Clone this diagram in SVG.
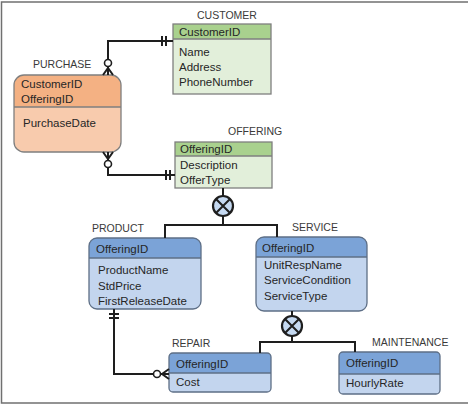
<svg xmlns="http://www.w3.org/2000/svg" width="468" height="408" viewBox="0 0 468 408">
<style>
text{font-family:"Liberation Sans",Arial,sans-serif}
.lbl{font-size:10.5px;fill:#3a3a3a}
.fld{font-size:11.5px;fill:#262626}
.gb{fill:#e2efda}.gh{fill:#a9d18e}
.ob{fill:#f8cbad}.oh{fill:#f4b183}
.bb{fill:#c3d5ee}.bh{fill:#7ba3d7}
.out{fill:none;stroke:#7f7f7f;stroke-width:1.3}
.bout{fill:none;stroke:#5e6f86;stroke-width:1.3}
.div{stroke:#7f7f7f;stroke-width:1.3}
.bdiv{stroke:#5e6f86;stroke-width:1.3}
.cn{fill:none;stroke:#1e1e1e;stroke-width:2}
.ring{fill:#fff;stroke:#1e1e1e;stroke-width:1.6}
.dj{fill:#c5d9f1;stroke:#1e1e1e;stroke-width:2.2}
</style>
<path d="M468,2 H1.5 V403 H468" fill="none" stroke="#707070" stroke-width="1.5"/>

<g id="customer">
<rect class="gb" x="173" y="24" width="98" height="70"/>
<rect class="gh" x="173" y="24" width="98" height="15"/>
<line class="div" x1="173" y1="39" x2="271" y2="39"/>
<rect class="out" x="173" y="24" width="98" height="70"/>
<text class="lbl" x="197" y="19">CUSTOMER</text>
<text class="fld" x="179" y="36">CustomerID</text>
<text class="fld" x="179" y="56">Name</text>
<text class="fld" x="179" y="71">Address</text>
<text class="fld" x="179" y="86">PhoneNumber</text>
</g>

<g id="purchase">
<rect class="ob" x="14" y="75" width="107" height="77" rx="10"/>
<path class="oh" d="M14,107 V85 A10,10 0 0 1 24,75 H111 A10,10 0 0 1 121,85 V107 Z"/>
<line class="div" x1="14" y1="107" x2="121" y2="107"/>
<rect class="out" x="14" y="75" width="107" height="77" rx="10"/>
<text class="lbl" x="33" y="68">PURCHASE</text>
<text class="fld" x="21" y="88">CustomerID</text>
<text class="fld" x="21" y="103">OfferingID</text>
<text class="fld" x="23" y="127">PurchaseDate</text>
</g>

<g id="offering">
<rect class="gb" x="175" y="142" width="97" height="46"/>
<rect class="gh" x="175" y="142" width="97" height="14"/>
<line class="div" x1="175" y1="156" x2="272" y2="156"/>
<rect class="out" x="175" y="142" width="97" height="46"/>
<text class="lbl" x="228" y="135">OFFERING</text>
<text class="fld" x="180" y="153">OfferingID</text>
<text class="fld" x="180" y="169">Description</text>
<text class="fld" x="180" y="184">OfferType</text>
</g>

<g id="product">
<rect class="bb" x="89" y="238" width="112" height="71" rx="8"/>
<path class="bh" d="M89,258 V246 A8,8 0 0 1 97,238 H193 A8,8 0 0 1 201,246 V258 Z"/>
<line class="bdiv" x1="89" y1="258" x2="201" y2="258"/>
<rect class="bout" x="89" y="238" width="112" height="71" rx="8"/>
<text class="lbl" x="92" y="232">PRODUCT</text>
<text class="fld" x="96" y="253">OfferingID</text>
<text class="fld" x="98" y="274">ProductName</text>
<text class="fld" x="98" y="290">StdPrice</text>
<text class="fld" x="98" y="305">FirstReleaseDate</text>
</g>

<g id="service">
<rect class="bb" x="256" y="237" width="111" height="74" rx="8"/>
<path class="bh" d="M256,257 V245 A8,8 0 0 1 264,237 H359 A8,8 0 0 1 367,245 V257 Z"/>
<line class="bdiv" x1="256" y1="257" x2="367" y2="257"/>
<rect class="bout" x="256" y="237" width="111" height="74" rx="8"/>
<text class="lbl" x="292" y="231">SERVICE</text>
<text class="fld" x="262" y="252">OfferingID</text>
<text class="fld" x="264" y="269">UnitRespName</text>
<text class="fld" x="264" y="284">ServiceCondition</text>
<text class="fld" x="264" y="300">ServiceType</text>
</g>

<g id="repair">
<rect class="bb" x="169" y="353" width="102" height="39" rx="4"/>
<path class="bh" d="M169,373 V357 A4,4 0 0 1 173,353 H267 A4,4 0 0 1 271,357 V373 Z"/>
<line class="bdiv" x1="169" y1="373" x2="271" y2="373"/>
<rect class="bout" x="169" y="353" width="102" height="39" rx="4"/>
<text class="lbl" x="172" y="347">REPAIR</text>
<text class="fld" x="176" y="368">OfferingID</text>
<text class="fld" x="176" y="386">Cost</text>
</g>

<g id="maintenance">
<rect class="bb" x="339" y="352" width="101" height="42" rx="4"/>
<path class="bh" d="M339,374 V356 A4,4 0 0 1 343,352 H436 A4,4 0 0 1 440,356 V374 Z"/>
<line class="bdiv" x1="339" y1="374" x2="440" y2="374"/>
<rect class="bout" x="339" y="352" width="101" height="42" rx="4"/>
<text class="lbl" x="372" y="346">MAINTENANCE</text>
<text class="fld" x="346" y="367">OfferingID</text>
<text class="fld" x="346" y="387">HourlyRate</text>
</g>

<g id="connectors">
<!-- PURCHASE - CUSTOMER -->
<path class="cn" d="M108,75 V41 H173"/>
<path class="cn" stroke-width="1.6" d="M103,75 L108,68 L113,75"/>
<circle class="ring" cx="108" cy="63" r="3.5"/>
<path class="cn" stroke-width="1.6" d="M162,36 V46 M166,36 V46"/>
<!-- PURCHASE - OFFERING -->
<path class="cn" d="M108,152 V175 H175"/>
<path class="cn" stroke-width="1.6" d="M103,152 L108,159 L113,152"/>
<circle class="ring" cx="108" cy="164" r="3.5"/>
<path class="cn" stroke-width="1.6" d="M166,170 V180 M170,170 V180"/>
<!-- OFFERING subtypes -->
<path class="cn" d="M223,188 V196 M223,216 V225 M165,238 V225 H277 V237"/>
<circle class="dj" cx="223" cy="206" r="10"/>
<path class="cn" d="M216,199 L230,213 M230,199 L216,213"/>
<!-- SERVICE subtypes -->
<path class="cn" d="M292,311 V316 M292,336 V342 M260,353 V342 H355 V352"/>
<circle class="dj" cx="292" cy="326" r="10"/>
<path class="cn" d="M285,319 L299,333 M299,319 L285,333"/>
<!-- PRODUCT - REPAIR -->
<path class="cn" d="M114,309 V374 H169"/>
<path class="cn" stroke-width="1.6" d="M109,314 H119 M109,318 H119"/>
<path class="cn" stroke-width="1.6" d="M169,369 L162,374 L169,379"/>
<circle class="ring" cx="157" cy="374" r="3.5"/>
</g>
</svg>
